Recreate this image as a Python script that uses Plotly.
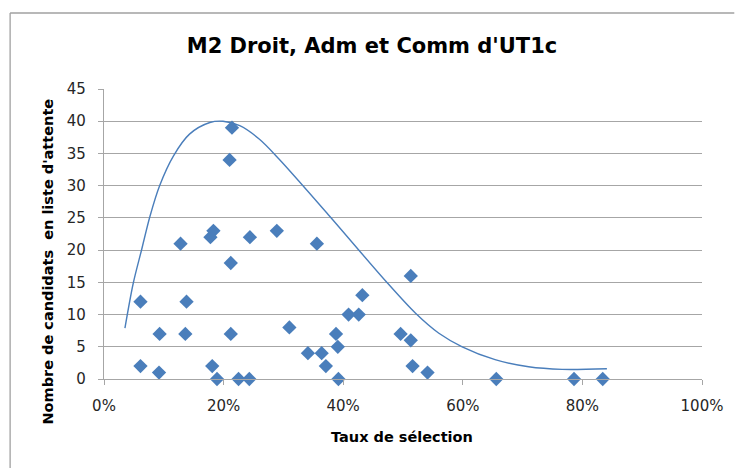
import plotly.graph_objects as go

# Scatter data: selection rate (fraction) vs. waitlist candidates
taux = [0.061, 0.061, 0.093, 0.092, 0.128, 0.138, 0.136, 0.178, 0.183, 0.181,
        0.189, 0.214, 0.210, 0.212, 0.212, 0.225, 0.243, 0.244, 0.289, 0.310,
        0.341, 0.356, 0.364, 0.371, 0.388, 0.391, 0.392, 0.409, 0.426, 0.432,
        0.513, 0.496, 0.513, 0.516, 0.541, 0.656, 0.786, 0.834]
candidats = [12, 2, 7, 1, 21, 12, 7, 22, 23, 2,
             0, 39, 34, 18, 7, 0, 0, 22, 23, 8,
             4, 21, 4, 2, 7, 5, 0, 10, 10, 13,
             16, 7, 6, 2, 1, 0, 0, 0]

# Smooth curve points
courbe_x = [0.035, 0.049, 0.063, 0.077, 0.093, 0.116, 0.143, 0.177, 0.199, 0.227,
            0.260, 0.293, 0.377, 0.471, 0.521, 0.560, 0.599, 0.654,
            0.710, 0.766, 0.841]
courbe_y = [7.9, 14.9, 20.1, 25.3, 30.0, 34.6, 38.0, 39.8, 40.0, 39.3,
            37.2, 34.1, 25.3, 15.2, 10.2, 7.1, 5.0, 3.0,
            1.9, 1.5, 1.6]

x_ticks = [0, 0.2, 0.4, 0.6, 0.8, 1.0]
y_ticks = [0, 5, 10, 15, 20, 25, 30, 35, 40, 45]

blue = "#4a7ebb"
grid = "#a6a6a6"
font = "DejaVu Sans"

fig = go.Figure()
fig.add_trace(go.Scatter(
    x=courbe_x, y=courbe_y, mode="lines",
    line=dict(color=blue, width=1.4, shape="spline", smoothing=0.9),
    hoverinfo="skip", showlegend=False, cliponaxis=False,
))
fig.add_trace(go.Scatter(
    x=taux, y=candidats, mode="markers",
    marker=dict(symbol="diamond", size=11, color=blue, line=dict(width=0)),
    showlegend=False, cliponaxis=False,
))

W, H = 735, 468
fig.update_layout(
    width=W, height=H,
    margin=dict(l=104, r=33, t=89, b=89),
    paper_bgcolor="white", plot_bgcolor="white",
    font=dict(family=font, size=15, color="#262626"),
    title=dict(text="<b>M2 Droit, Adm et Comm d'UT1c</b>",
               x=372 / W, xanchor="center", y=1 - 46 / H, yanchor="middle",
               font=dict(family=font, size=21, color="#000000")),
    xaxis=dict(range=[0, 1], tickvals=x_ticks, tickformat=".0%",
               showgrid=False, zeroline=False, automargin=False,
               showline=True, linecolor=grid, linewidth=1.3,
               ticks="outside", ticklen=5, tickcolor=grid, tickwidth=1.3,
               ticklabelstandoff=8,
               tickfont=dict(family=font, size=15, color="#262626")),
    yaxis=dict(range=[0, 45], tickvals=y_ticks, automargin=False,
               showgrid=True, gridcolor=grid, gridwidth=1.3, zeroline=False,
               showline=True, linecolor=grid, linewidth=1.3,
               ticks="outside", ticklen=5, tickcolor=grid, tickwidth=1.3,
               ticklabelstandoff=9,
               tickfont=dict(family=font, size=15, color="#262626")),
    annotations=[
        dict(text="<b>Taux de sélection</b>", xref="paper", yref="paper",
             x=0.498, y=-0.2, xanchor="center", yanchor="middle",
             showarrow=False, font=dict(family=font, size=14.5, color="#000000")),
        dict(text="<b>Nombre de candidats\u00a0 en liste d'attente</b>",
             xref="paper", yref="paper", x=-0.0936, y=0.405,
             xanchor="center", yanchor="middle", textangle=-90,
             showarrow=False, font=dict(family=font, size=14.5, color="#000000")),
    ],
    shapes=[
        dict(type="line", xref="paper", yref="paper",
             x0=-0.157, x1=1.054, y0=1.262, y1=1.262,
             line=dict(color="#a0a0a0", width=1.3)),
        dict(type="line", xref="paper", yref="paper",
             x0=-0.157, x1=-0.157, y0=1.262, y1=-0.31,
             line=dict(color="#a0a0a0", width=1.3)),
    ],
)

# remove the page's default body margin so the figure fills the window exactly
fig.write_html("out.html",
               config={"displayModeBar": False},
               post_script="document.body.style.margin='0';"
                           "document.body.style.overflow='hidden';")
